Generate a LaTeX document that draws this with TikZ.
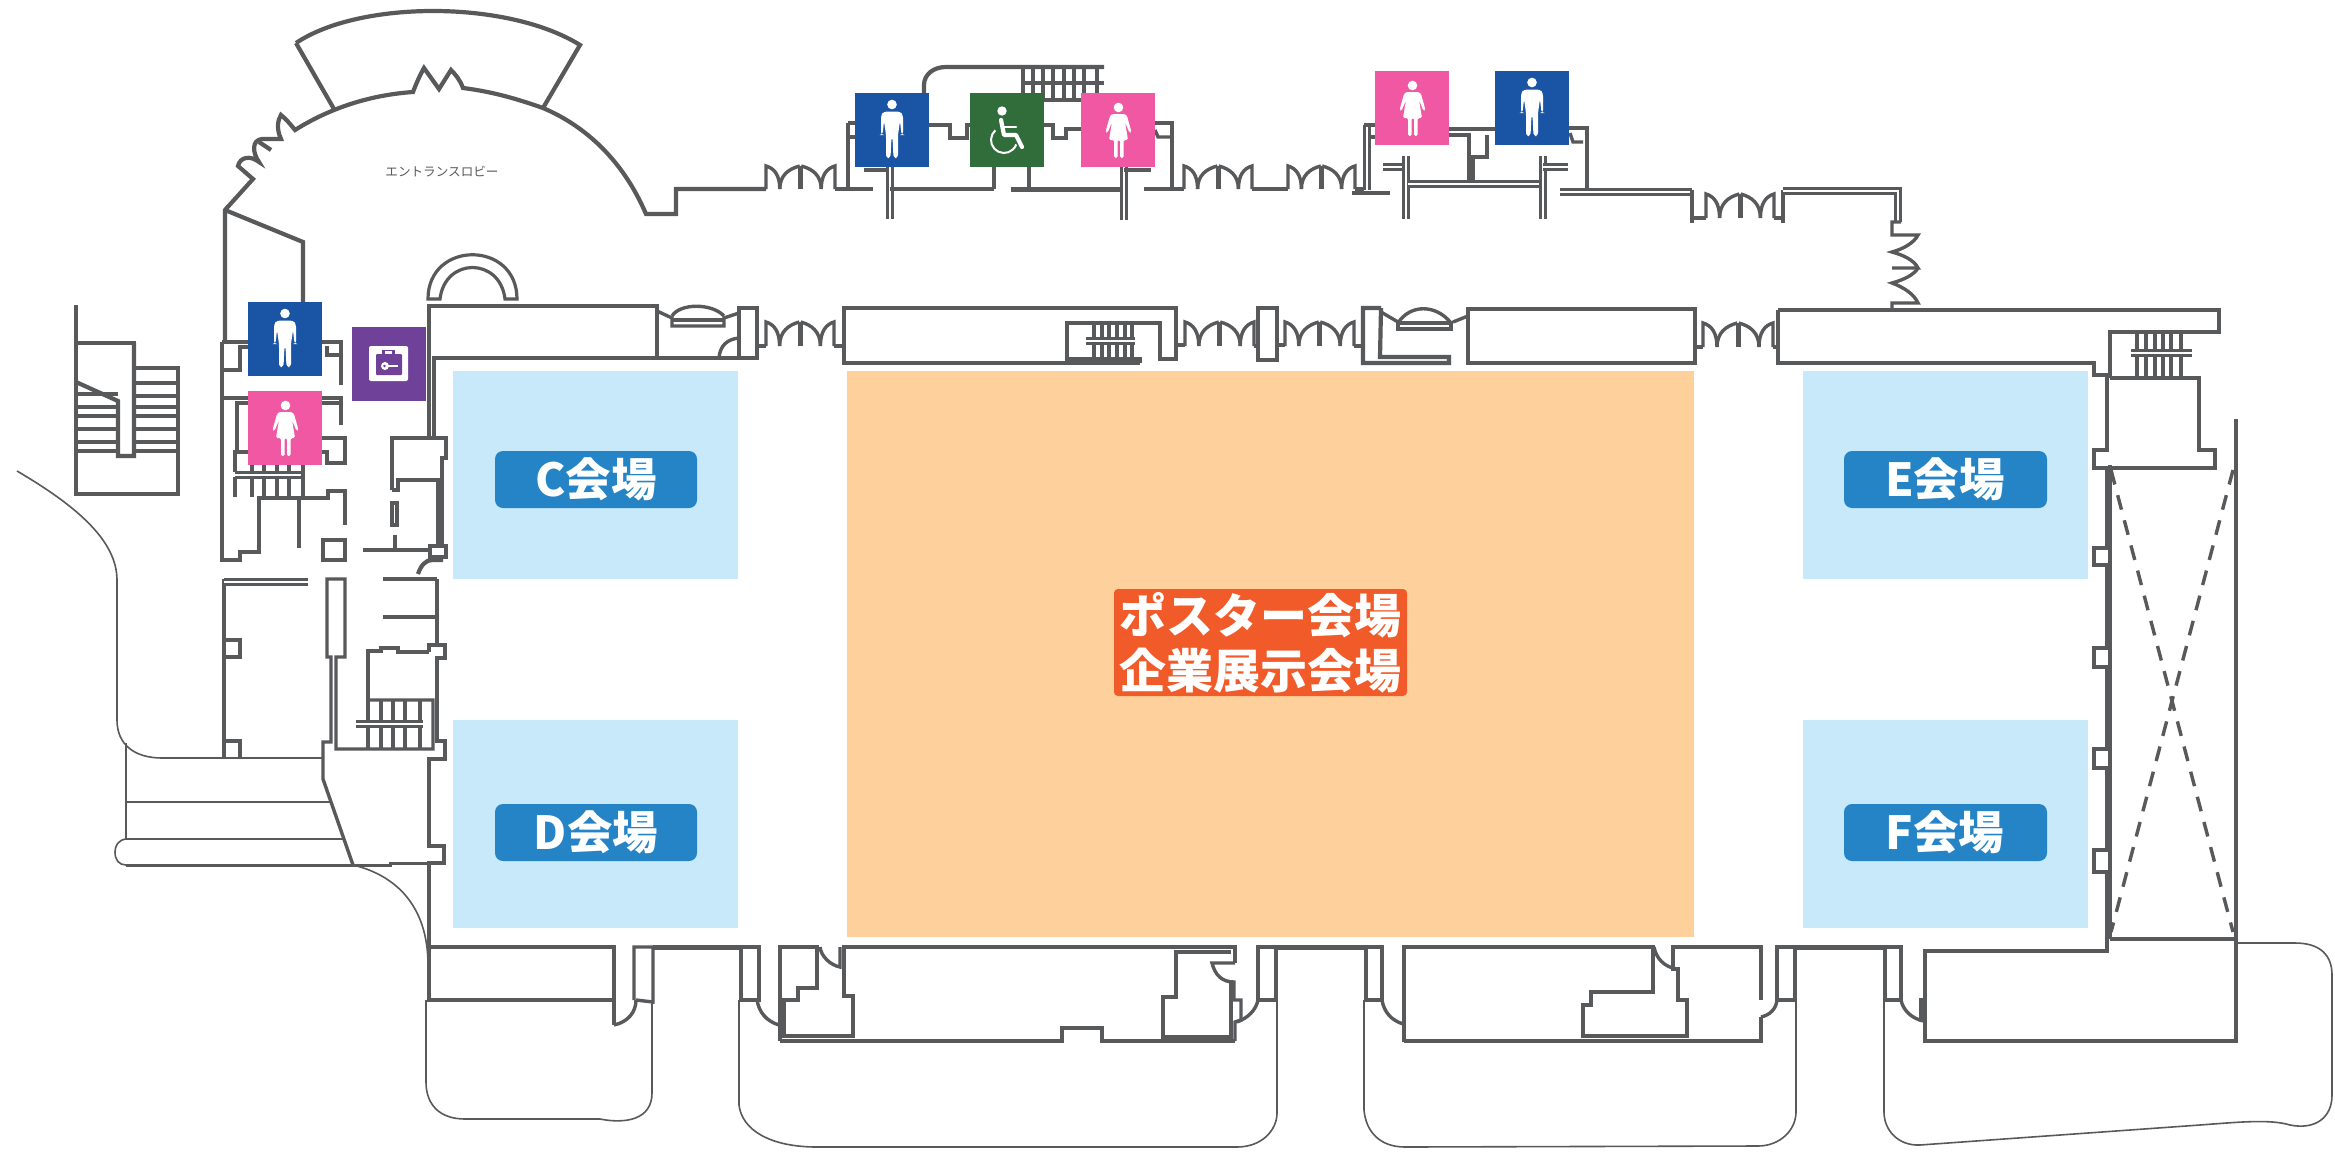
\documentclass[tikz,border=0pt]{standalone}
\usepackage{fontspec}
\setmainfont{Noto Sans CJK JP}
\definecolor{wallc}{HTML}{58595B}
\definecolor{halls}{HTML}{C7E9FA}
\definecolor{hallo}{HTML}{FDD09C}
\definecolor{pillb}{HTML}{2484C6}
\definecolor{pillo}{HTML}{F15A29}
\definecolor{iconb}{HTML}{1A55A5}
\definecolor{iconp}{HTML}{F058A4}
\definecolor{icong}{HTML}{316D3B}
\definecolor{iconv}{HTML}{6F4199}
\tikzset{
  wall/.style={draw=wallc,line width=4.2pt,line join=miter},
  dwall/.style={draw=wallc,line width=3pt,double=white,double distance=1.2pt},
  mid/.style={draw=wallc,line width=3.4pt},
  thin/.style={draw=wallc,line width=1.6pt},
  hallbox/.style={fill=halls,draw=none},
  pill/.style={fill=pillb,draw=none,rounded corners=8pt},
  hallname/.style={text=white,font=\fontsize{45.5}{46}\selectfont\bfseries,inner sep=0pt},
  glyph/.style={fill=white,draw=none},
}
\newcommand{\mmh}[4]{\begin{scope}[shift={(#1,#2)},x=#3pt,y=-#4pt]
  \draw[mid] (0,1)--(0,0) .. controls (.12,.1) and (.2,.4) .. (.2,1);
  \draw[mid] (.2,1) .. controls (.2,.4) and (.33,.12) .. (.49,0);
  \draw[mid] (.51,0) .. controls (.67,.12) and (.8,.4) .. (.8,1);
  \draw[mid] (.8,1) .. controls (.8,.4) and (.88,.1) .. (1,0)--(1,1);
  \draw[mid,line width=5pt] (.5,0)--(.5,1);
\end{scope}}
\newcommand{\man}[3]{\begin{scope}[shift={(#1,#2)}]
  \fill[#3] (0,0) rectangle (74,74);
  \fill[glyph] (37,11.5) circle (4.8);
  \fill[glyph,rounded corners=3pt] (26,42)--(26,22)--(29,18.5)--(45,18.5)--(48,22)--(48,42)--(46.5,42)--(45,28)--(43,42)--(43,65)--(38.5,65)--(37.5,44)--(36.5,44)--(35.5,65)--(31,65)--(31,42)--(29,28)--(27.5,42)--cycle;
\end{scope}}
\newcommand{\woman}[3]{\begin{scope}[shift={(#1,#2)}]
  \fill[#3] (0,0) rectangle (74,74);
  \fill[glyph] (37.5,14.5) circle (4.8);
  \fill[glyph,rounded corners=1.5pt] (31,21)--(44,21)--(46,23)--(50.5,39)--(48.5,40)--(44,29)--(47,47)--(42.5,47)--(42.5,65)--(39,65)--(39,47)--(36.5,47)--(36.5,65)--(33,65)--(33,47)--(28,47)--(31,29)--(26.5,40)--(24.5,39)--(29,23)--cycle;
\end{scope}}
\begin{document}
\begin{tikzpicture}[x=1pt,y=-1pt]
\useasboundingbox (0,0) rectangle (2335,1157);
\fill[white] (0,0) rectangle (2335,1157);
% halls
\fill[hallbox] (453,371) rectangle (738,579);
\fill[hallbox] (453,720) rectangle (738,928);
\fill[hallbox] (1803,371) rectangle (2088,579);
\fill[hallbox] (1803,720) rectangle (2088,928);
\fill[hallo] (847,371) rectangle (1694,937);
% entrance lobby
\draw[wall] (296,43) .. controls (360,0) and (508,0) .. (580,45) -- (543,108);
\draw[wall] (296,43) -- (334,109);
\draw[wall] (225,342) -- (225,210) -- (253,179) -- (238,166) .. controls (240,157) and (250,155) .. (259,162)
  .. controls (252,152) and (252,140) .. (262,139) -- (281,139) .. controls (276,128) and (278,120) .. (281,115)
  .. controls (287,120) and (291,125) .. (295,130) .. controls (330,108) and (370,95) .. (413,92)
  .. controls (416,84) and (420,75) .. (424,68) -- (439,89) -- (451,70) .. controls (456,75) and (460,80) .. (463,88)
  .. controls (495,92) and (520,100) .. (543,108) .. controls (590,128) and (625,165) .. (646,214)
  -- (676,214) -- (676,189) -- (766,189);
\draw[wall] (259,142) -- (271,150);
\draw[wall] (225,210) -- (303,242) -- (303,302);
\node[text=wallc,font=\fontsize{12.6}{13}\selectfont,inner sep=0pt] (lobby) at (442,172) {エントランスロビー};
% far left stair
\draw[wall] (76,305) -- (76,494) -- (178,494) -- (178,368) -- (134,368) -- (134,343) -- (76,343);
\draw[wall] (76,382) -- (118,401) -- (118,456) -- (134,456) -- (134,343);
\foreach \ty in {383,396,407,416,429,442,451} \draw[wall] (134,\ty) -- (178,\ty);
\foreach \ty in {394,407,416,429,442,451} \draw[wall] (76,\ty) -- (118,\ty);
% thin outlines left
\draw[thin] (17,471) .. controls (75,505) and (117,540) .. (117,580) -- (117,720) .. controls (117,745) and (135,758) .. (162,758) -- (323,758);
\draw[thin] (126,743) -- (126,839);
\draw[thin] (126,802) -- (330,802);
\draw[thin] (126,839) -- (343,839);
\draw[thin] (126,839) .. controls (118,840) and (115,846) .. (115,852) .. controls (115,860) and (119,865) .. (126,865);
\draw[wall,line width=3pt] (126,865) -- (353,865) -- (390,865) -- (390,863) -- (445,863);
\draw[thin] (353,865) .. controls (395,875) and (428,905) .. (428,965);
% left rooms upper
\draw[wall] (222,342) -- (222,560) -- (240,560) -- (240,552) -- (259,552) -- (259,498) -- (328,498) -- (328,491) -- (345,491) -- (345,525);
\draw[wall] (323,540) rectangle (345,560);
\draw[wall] (299,498) -- (299,548);
\draw[wall] (222,342) -- (248,342);
\draw[wall] (322,342) -- (341,342) -- (341,385);
\draw[wall] (327,346) -- (327,355) -- (341,355);
\draw[wall] (248,347) -- (240,347) -- (240,370) -- (222,370);
\draw[wall] (222,398) -- (248,398);
\draw[wall] (322,398) -- (341,398) -- (341,425);
\draw[mid] (322,403) -- (341,403);
\draw[wall] (248,403) -- (237,403) -- (237,450);
\draw[wall] (248,452) -- (235,452) -- (235,472);
\draw[wall] (235,477) -- (235,497);
\draw[dwall] (235,475) -- (303,475);
\draw[wall] (303,465) -- (303,497);
\foreach \tx in {252,264,277,289} {\draw[mid] (\tx,465) -- (\tx,473); \draw[wall] (\tx,477) -- (\tx,497);}
\draw[wall] (322,438) -- (345,438) -- (345,463) -- (327,463) -- (327,452) -- (322,452);
% corridor right of rooms
\draw[wall] (392,490) -- (392,438) -- (446,438) -- (446,458) -- (442,458) -- (442,552);
\draw[mid] (438,545) -- (438,480) -- (398,480) -- (398,490) -- (392,490);
\draw[mid] (392,503) rectangle (397,525);
\draw[wall] (395,535) -- (395,548);
\draw[wall] (363,550) -- (430,550);
\draw[wall,fill=white] (430,546) rectangle (446,557);
\draw[wall] (418,574) .. controls (421,565) and (426,560) .. (432,560) -- (443,560);
\draw[wall] (429,438) -- (429,306) -- (657,306) -- (657,358) -- (434,358) -- (434,438);
\draw[wall] (657,358) -- (757,358) -- (757,308) -- (739,308) -- (739,358);
\draw[mid] (657,311) -- (672,318) -- (672,326) -- (724,326) -- (724,318) -- (739,313);
\draw[mid] (672,320) -- (724,320);
\draw[mid] (672,316) .. controls (680,303) and (712,303) .. (724,316);
\draw[mid] (719,358) .. controls (720,345) and (728,339) .. (739,338);
\draw[mid] (757,346) -- (766,346);
% arch
\draw[wall,line width=3.2pt] (428,299) .. controls (428,240) and (517,240) .. (517,299) -- (505,299) .. controls (500,257) and (445,257) .. (440,299) -- cycle;
% lower left
\draw[wall] (224,758) -- (224,579);
\draw[dwall] (224,582) -- (308,582);
\draw[mid] (224,640) -- (240,640) -- (240,657) -- (224,657);
\draw[mid] (224,741) -- (240,741) -- (240,758);
\draw[thin,line width=2.4pt] (224,758) -- (323,758);
\draw[mid] (353,865) -- (323,779) -- (323,742) -- (331,742) -- (331,657) -- (327,657) -- (327,579) -- (345,579) -- (345,657) -- (336,657) -- (336,749) -- (433,749) -- (433,700) -- (368,700);
\draw[mid] (368,749) -- (368,651) -- (381,651) -- (381,648) -- (398,648) -- (398,652) -- (429,652);
\foreach \tx in {381,393,405,420} \draw[mid] (\tx,700) -- (\tx,749);
\draw[dwall] (356,724) -- (423,724);
\draw[mid] (383,579) -- (437,579);
\draw[wall] (383,617) -- (437,617);
\draw[mid] (437,579) -- (437,645) -- (429,645) -- (429,652);
\draw[mid] (437,645) -- (445,645) -- (445,658) -- (437,658) -- (437,741) -- (445,741) -- (445,759) -- (429,759) -- (429,846) -- (444,846) -- (444,863) -- (429,863) -- (429,1000);
% north wall toilets
\mmh{766}{166}{69}{23}
\draw[wall] (835,189) -- (873,189);
\draw[mid] (848,123) -- (848,189);
\draw[mid] (848,123) -- (860,123);
\draw[mid] (848,137) -- (860,137);
\draw[wall] (864,170) -- (890,170);
\draw[dwall] (890,167) -- (890,219);
\draw[wall] (890,189) -- (994,189);
\draw[wall] (994,167) -- (994,189);
\draw[wall,line width=5pt] (1011,189) -- (1124,189);
\draw[wall] (1029,167) -- (1029,189);
\draw[dwall] (1124,167) -- (1124,220);
\draw[wall] (1124,170) -- (1151,170);
\draw[wall] (1144,189) -- (1184,189);
\draw[mid] (1155,123) -- (1172,123) -- (1172,189);
\draw[mid] (1155,130) -- (1158,137) -- (1171,137);
\draw[wall] (929,125) -- (950,125) -- (950,138) -- (967,138) -- (967,125) -- (970,125);
\draw[wall] (1043,125) -- (1053,125) -- (1053,138) -- (1066,138) -- (1066,129) -- (1081,129);
\draw[wall] (924,93) -- (924,85) .. controls (924,74) and (934,67) .. (946,67) -- (1104,67);
\draw[wall] (1023,83) -- (1104,83);
\draw[wall] (1043,100) -- (1081,100);
\foreach \tx in {1023,1033,1043,1053,1064,1074,1084,1097} \draw[mid] (\tx,67) -- (\tx,93);
\foreach \tx in {1043,1053,1064,1074} \draw[mid] (\tx,83) -- (\tx,100);
\mmh{1184}{166}{68}{23}
\draw[wall] (1252,189) -- (1288,189);
\mmh{1288}{166}{67}{23}
\draw[wall] (1355,189) -- (1364,189);
\draw[wall] (1352,193) -- (1390,193);
\draw[dwall] (1367,125) -- (1367,190);
\draw[mid] (1364,125) -- (1378,125);
\draw[mid] (1371,137) -- (1378,137);
% second toilet
\draw[wall] (1449,129) -- (1495,129);
\draw[mid] (1449,135) -- (1469,135) -- (1469,180);
\draw[mid] (1487,135) -- (1487,157) -- (1473,157) -- (1473,182);
\draw[dwall] (1383,167) -- (1405,167);
\draw[dwall] (1406,156) -- (1406,219);
\draw[dwall] (1408,184) -- (1543,184);
\draw[dwall] (1543,156) -- (1543,219);
\draw[dwall] (1543,167) -- (1568,167);
\draw[mid] (1569,128) -- (1587,128) -- (1587,190);
\draw[mid] (1570,133) -- (1573,142) -- (1583,142);
\draw[dwall] (1560,192) -- (1692,192);
\draw[mid] (1692,190) -- (1692,223);
\draw[mid] (1692,218) -- (1706,218);
\mmh{1706}{194}{68}{24}
\draw[mid] (1774,218) -- (1783,218);
\draw[mid] (1783,223) -- (1783,190);
\draw[dwall] (1783,191) -- (1898,191) -- (1898,222);
% vertical door group
\draw[mid] (1901,222) -- (1892,222) -- (1892,235) -- (1918,235) .. controls (1914,243) and (1903,249) .. (1892,252)
  .. controls (1903,255) and (1914,260) .. (1918,268) -- (1892,268);
\draw[mid] (1918,268) .. controls (1914,275) and (1903,280) .. (1892,283) .. controls (1903,287) and (1914,294) .. (1918,303) -- (1892,303) -- (1892,310);
% corridor south of lobby, second row
\mmh{766}{322}{68}{24}
\draw[wall] (834,346) -- (844,346);
\draw[wall] (1140,363) -- (844,363) -- (844,308) -- (1176,308) -- (1176,359) -- (1160,359) -- (1160,323) -- (1067,323) -- (1067,359) -- (1140,359) -- (1140,363);
\foreach \tx in {1094,1102,1109,1117,1125,1132} \draw[mid] (\tx,323) -- (\tx,358);
\draw[dwall] (1086,341) -- (1135,341);
\draw[wall] (1176,345) -- (1185,345);
\mmh{1185}{322}{69}{24}
\draw[wall] (1254,346) -- (1258,346);
\draw[wall] (1258,308) rectangle (1277,360);
\draw[wall] (1277,345) -- (1285,345);
\mmh{1285}{322}{69}{24}
\draw[wall] (1354,346) -- (1363,346);
\draw[wall] (1381,308) -- (1363,308) -- (1363,363) -- (1449,363) -- (1449,357) -- (1380,357) -- (1381,308);
\draw[mid] (1381,312) -- (1398,322);
\draw[mid] (1398,329) rectangle (1451,323);
\draw[mid] (1398,323) .. controls (1410,304) and (1436,304) .. (1451,323);
\draw[mid] (1453,322) -- (1468,316);
\draw[wall] (1468,309) rectangle (1695,363);
\draw[mid] (1695,347) -- (1703,347);
\mmh{1703}{323}{70}{24}
\draw[mid] (1773,347) -- (1778,347);
% east block
\draw[wall] (1778,310) -- (2219,310) -- (2219,332) -- (2110,332) -- (2110,378);
\draw[wall] (1778,310) -- (1778,363) -- (2094,363) -- (2094,375) -- (2107,375) -- (2107,450) -- (2094,450) -- (2094,468) -- (2215,468) -- (2215,450) -- (2199,450) -- (2199,378) -- (2110,378);
\foreach \tx in {2137,2146,2155,2163,2171,2181} \draw[mid] (\tx,332) -- (\tx,377);
\draw[dwall] (2131,353) -- (2192,353);
% right wing
\draw[wall] (2236,419) -- (2236,1041) -- (1925,1041) -- (1925,951) -- (2107,951) -- (2107,872) -- (2094,872) -- (2094,850) -- (2107,850) -- (2107,768) -- (2094,768) -- (2094,749) -- (2107,749) -- (2107,667) -- (2094,667) -- (2094,648) -- (2107,648) -- (2107,565) -- (2094,565) -- (2094,548) -- (2107,548) -- (2107,468);
\draw[mid] (2110,465) -- (2110,939);
\draw[wall] (2110,939) -- (2236,939);
\draw[mid,dash pattern=on 15pt off 11pt] (2111,470) -- (2233,932);
\draw[mid,dash pattern=on 15pt off 11pt] (2233,470) -- (2111,932);
% south rooms
\draw[wall] (429,947) -- (614,947) -- (614,1025);
\draw[mid] (429,945) -- (429,1000) -- (614,1000);
\draw[mid] (614,1025) .. controls (628,1022) and (636,1012) .. (636,1000);
\draw[mid] (634,1000) -- (634,947) -- (653,947) -- (653,1002) -- (636,1000);
\draw[wall,line width=5pt] (653,947) -- (741,947);
\draw[mid] (741,947) -- (741,1000) -- (759,1000) -- (759,947) -- (741,947);
\draw[mid] (757,1000) .. controls (759,1012) and (766,1021) .. (779,1025);
\draw[mid] (780,1041) -- (780,947) -- (817,947) -- (817,988) -- (798,988) -- (798,1000) -- (784,1000) -- (784,1036) -- (853,1036) -- (853,996) -- (844,996) -- (844,947) -- (1235,947) -- (1235,963);
\draw[wall,line width=3.4pt] (1235,963) -- (1212,963) .. controls (1215,975) and (1222,982) .. (1234,982) -- (1234,1000) -- (1241,1000) -- (1241,1020) -- (1235,1022) -- (1235,1041);
\draw[mid] (780,1041) -- (1062,1041) -- (1062,1028) -- (1102,1028) -- (1102,1041) -- (1235,1041);
\draw[mid] (820,947) .. controls (821,956) and (830,965) .. (840,967) -- (840,947);
\draw[mid] (1231,952) -- (1176,952) -- (1176,997) -- (1163,997) -- (1163,1037) -- (1231,1037) -- (1231,983);
\draw[mid] (1258,1000) .. controls (1256,1010) and (1248,1018) .. (1237,1022);
\draw[mid] (1258,1000) -- (1258,947) -- (1276,947) -- (1276,1000) -- cycle;
\draw[wall,line width=5pt] (1276,947) -- (1366,947);
\draw[mid] (1366,947) -- (1366,1000) -- (1382,1000) -- (1382,947) -- cycle;
\draw[mid] (1382,1000) .. controls (1384,1012) and (1391,1020) .. (1403,1024);
\draw[wall,line width=3.4pt] (1404,1042) -- (1404,947) -- (1653,947) -- (1653,992) -- (1591,992) -- (1591,1005) -- (1583,1005) -- (1583,1036) -- (1687,1036) -- (1687,1000) -- (1678,1000) -- (1678,969) -- (1673,969) -- (1673,947) -- (1761,947) -- (1761,1000);
\draw[mid] (1404,1041) -- (1761,1041) -- (1761,1017);
\draw[mid] (1654,947) .. controls (1656,958) and (1664,967) .. (1677,969);
\draw[mid] (1777,1000) .. controls (1776,1009) and (1770,1015) .. (1761,1017);
\draw[mid] (1777,1000) -- (1777,947) -- (1795,947) -- (1795,1000) -- cycle;
\draw[wall,line width=5pt] (1795,947) -- (1885,947);
\draw[mid] (1885,947) -- (1901,947) -- (1901,1000) -- (1885,1000) -- cycle;
\draw[mid] (1901,1000) .. controls (1903,1010) and (1911,1018) .. (1923,1021);
\draw[mid] (1921,998) -- (1921,1021);
% thin outlines south
\draw[thin] (426,1000) -- (426,1082) .. controls (426,1105) and (440,1119) .. (465,1119) -- (600,1119) .. controls (625,1124) and (652,1120) .. (652,1093) -- (652,1000);
\draw[thin] (739,1000) -- (739,1105) .. controls (742,1130) and (770,1147) .. (817,1147) -- (1237,1147) .. controls (1262,1147) and (1277,1130) .. (1277,1113) -- (1277,1000);
\draw[thin] (1364,1000) -- (1364,1110) .. controls (1366,1132) and (1380,1147) .. (1405,1147) -- (1758,1146) .. controls (1780,1146) and (1796,1130) .. (1796,1112) -- (1796,1000);
\draw[thin] (2236,943) -- (2295,943) .. controls (2320,943) and (2332,955) .. (2332,975) -- (2332,1095) .. controls (2332,1118) and (2315,1130) .. (2290,1125) .. controls (2270,1119) and (2240,1122) .. (2200,1125) -- (1920,1145) .. controls (1898,1146) and (1884,1130) .. (1884,1112) -- (1884,1000);
% icons
\man{248}{302}{iconb}
\woman{248}{391}{iconp}
\man{855}{93}{iconb}
\woman{1081}{93}{iconp}
\woman{1375}{71}{iconp}
\man{1495}{71}{iconb}
% wheelchair
\begin{scope}[shift={(970,93)}]
  \fill[icong] (0,0) rectangle (74,74);
  \fill[glyph] (32,18) circle (4.7);
  \draw[white,line width=4.2pt,line cap=round,line join=round] (31,27) -- (34,42) -- (46,42) -- (52,54);
  \draw[white,line width=2.6pt,line cap=round] (33,34) -- (46,34);
  \draw[white,line width=2pt] (34,47) ++(228:13) arc (228:20:13);
\end{scope}
% cloakroom icon
\begin{scope}[shift={(352,327)}]
  \fill[iconv] (0,0) rectangle (74,74);
  \fill[glyph,rounded corners=2pt] (17,19) rectangle (56,54);
  \fill[iconv,rounded corners=1pt] (24,27) rectangle (50,48);
  \fill[iconv] (30,23) rectangle (43,27);
  \fill[glyph] (33,23.8) rectangle (40,27);
  \fill[glyph] (33,39) circle (4);
  \fill[iconv] (32.5,39) circle (1.4);
  \fill[glyph] (36,37.8) rectangle (46,40);
\end{scope}
% labels
\fill[pill] (495,451) rectangle (697,508);
\node[hallname] (c) at (596,479) {C会場};
\fill[pill] (495,804) rectangle (697,861);
\node[hallname] (d) at (596,832) {D会場};
\fill[pill] (1844,451) rectangle (2047,508);
\node[hallname] (e) at (1945,479) {E会場};
\fill[pill] (1844,804) rectangle (2047,861);
\node[hallname] (f) at (1945,832) {F会場};
\fill[pillo,rounded corners=4pt] (1114,589) rectangle (1407,696);
\node[text=white,font=\fontsize{47}{55}\selectfont\bfseries,inner sep=0pt,align=center] (poster) at (1260,643) {ポスター会場\\企業展示会場};
\end{tikzpicture}
\end{document}
